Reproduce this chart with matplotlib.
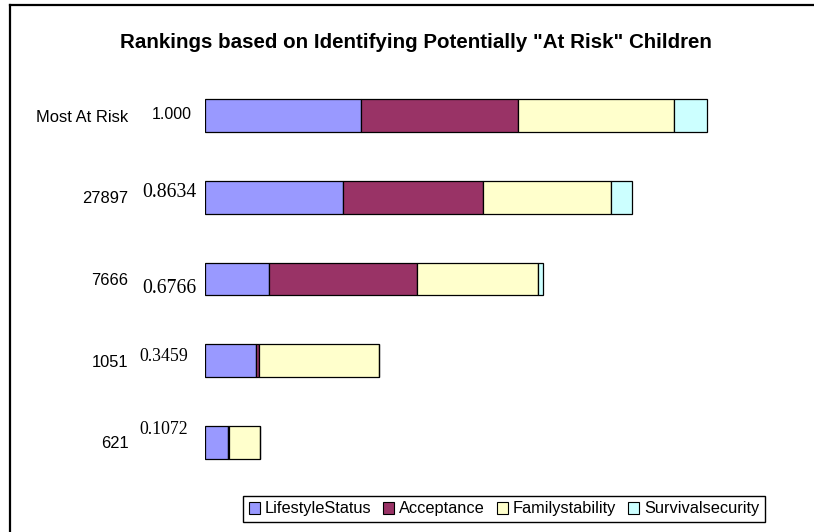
#!/usr/bin/env python3

# stacked ranking bars for "at risk" children

import matplotlib.pyplot as plt
from matplotlib.lines import Line2D
from matplotlib.patches import Patch

# data
categories = ["Most At Risk", "27897", "7666", "1051", "621"]
lifestyle_status = [0.3115, 0.2757, 0.1282, 0.1010, 0.0465]
acceptance = [0.3117, 0.2778, 0.2944, 0.0072, 0.0010]
family_stability = [0.3121, 0.2557, 0.2418, 0.2380, 0.0618]
survival_security = [0.0646, 0.0413, 0.0100, 0.0, 0.0]
score_labels = ["1.000", "0.8634", "0.6766", "0.3459", "0.1072"]
series_names = ["LifestyleStatus", "Acceptance", "Familystability", "Survivalsecurity"]

# excel classic palette
colors = ["#9999FF", "#993366", "#FFFFCC", "#CCFFFF"]

W, H = 814, 532


def main():
    fig = plt.figure(figsize=(W / 100, H / 100), dpi=100)
    plt.rcParams["font.family"] = ["Liberation Sans", "DejaVu Sans"]

    # plot area in pixels: x from 205 (zero) , y spans the five rows
    left, right = 205, 790
    top, bottom = 74.65, 483.35
    ax = fig.add_axes([left / W, (H - bottom) / H, (right - left) / W, (bottom - top) / H])

    series = [lifestyle_status, acceptance, family_stability, survival_security]
    ypos = list(range(len(categories)))
    base = [0.0] * len(categories)
    for vals, color, name in zip(series, colors, series_names):
        ax.barh(ypos, vals, left=base, height=0.40, color=color,
                edgecolor="black", linewidth=0.9, label=name)
        base = [b + v for b, v in zip(base, vals)]

    # one unit of score is 501.7 px wide
    ax.set_xlim(0, (right - left) / 501.7)
    ax.set_ylim(len(categories) - 0.5, -0.5)

    ax.set_yticks(ypos, categories)
    ax.tick_params(axis="y", length=0, pad=55, labelsize=11.9)
    ax.set_xticks([])
    for s in ax.spines.values():
        s.set_visible(False)

    # score labels next to the bars (offsets in points)
    offsets = [(-9.6, 0.4), (-6.0, 3.1), (-6.0, -6.8), (-12.0, 2.9), (-12.0, 9.0)]
    fonts = [("Liberation Sans", 11.5), ("Liberation Serif", 14.2),
             ("Liberation Serif", 14.2), ("Liberation Serif", 12.8),
             ("Liberation Serif", 12.8)]
    for i, (txt, (dx, dy), (fam, size)) in enumerate(zip(score_labels, offsets, fonts)):
        ax.annotate(txt, xy=(0, i), xytext=(dx, dy), textcoords="offset points",
                    ha="right", va="center", fontsize=size, family=fam,
                    annotation_clip=False)

    # title
    fig.text(416 / W, 1 - 42 / H,
             'Rankings based on Identifying Potentially "At Risk" Children',
             ha="center", va="center", fontsize=14.8, fontweight="bold")

    # legend along the bottom
    handles = [Patch(facecolor=c, edgecolor="black", linewidth=0.8) for c in colors]
    leg = fig.legend(handles, series_names, loc="center", ncol=4,
                     bbox_to_anchor=(504 / W, 1 - 509 / H), fontsize=11.8,
                     frameon=True, fancybox=False, edgecolor="black", framealpha=1,
                     handlelength=0.7, handleheight=0.7, handletextpad=0.3,
                     columnspacing=0.7, borderpad=0.35, borderaxespad=0)
    leg.get_frame().set_linewidth(1.0)

    # outer chart border (top and left visible)
    fig.add_artist(Line2D([9.5 / W, 9.5 / W], [0, 1 - 4.7 / H], color="black", linewidth=1.6))
    fig.add_artist(Line2D([9.5 / W, 1], [1 - 4.7 / H, 1 - 4.7 / H], color="black", linewidth=1.6))

    fig.savefig("out.png", dpi=100)


if __name__ == "__main__":
    main()
